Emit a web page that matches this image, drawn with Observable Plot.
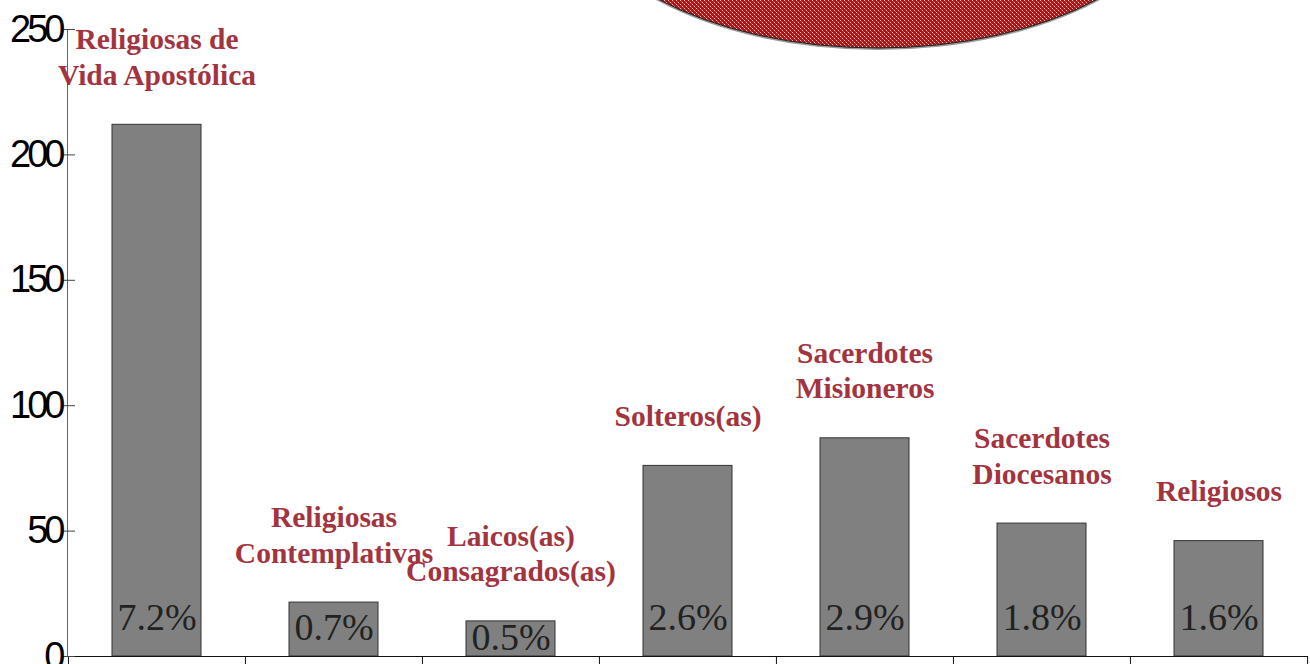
<!DOCTYPE html>
<html><head><meta charset="utf-8">
<script src="https://cdn.jsdelivr.net/npm/d3@7"></script>
<script src="https://cdn.jsdelivr.net/npm/@observablehq/plot@0.6"></script>
<style>
body{margin:0;background:#fff;overflow:hidden}
#chart svg g[aria-label="y-axis tick label"] text{letter-spacing:-4px}
</style>
</head><body><div id="chart"></div>
<script>
const categories = ["Religiosas de\nVida Apostólica", "Religiosas\nContemplativas", "Laicos(as)\nConsagrados(as)", "Solteros(as)", "Sacerdotes\nMisioneros", "Sacerdotes\nDiocesanos", "Religiosos"];
const values = [212, 21.5, 14, 76, 87, 53, 46];
const percents = ["7.2%", "0.7%", "0.5%", "2.6%", "2.9%", "1.8%", "1.6%"];
const yTicks = [0, 50, 100, 150, 200, 250];

const data = categories.map((c, i) => ({cat: c, value: values[i], pct: percents[i]}));

const W = 1310, H = 664, mL = 67, mR = 3, mT = 29, mB = 8;
const step = (W - mL - mR) / categories.length;

function pieFragment() {
  return () => {
    const ns = "http://www.w3.org/2000/svg";
    const g = document.createElementNS(ns, "g");
    g.innerHTML = `<defs><pattern id="piepat" width="4" height="4" patternUnits="userSpaceOnUse">
      <rect width="4" height="4" fill="#a51616"/>
      <rect x="0" y="0" width="1" height="1" fill="#ecb8b8"/>
      <rect x="2" y="2" width="1" height="1" fill="#ecb8b8"/>
      <rect x="1" y="1" width="1" height="1" fill="#c85050"/>
      <rect x="3" y="3" width="1" height="1" fill="#c85050"/>
      </pattern></defs>
      <ellipse cx="878" cy="-117" rx="311" ry="167" fill="#9a9a9a"/>
      <ellipse cx="878" cy="-119" rx="311" ry="167" fill="url(#piepat)" stroke="#222" stroke-width="1"/>`;
    return g;
  };
}

const serif = "Liberation Serif, Times New Roman, serif";

const chart = Plot.plot({
  width: W, height: H,
  marginLeft: mL, marginRight: mR, marginTop: mT, marginBottom: mB,
  style: {background: "#fff", overflow: "visible"},
  x: {domain: categories, paddingInner: 0.5, paddingOuter: 0.25, axis: null},
  y: {domain: [0, 250], axis: null},
  marks: [
    pieFragment(),
    Plot.barY(data, {x: "cat", y: "value", fill: "#808080", stroke: "#333", strokeWidth: 1}),
    Plot.frame({anchor: "left", stroke: "#666"}),
    Plot.ruleY([0], {stroke: "#111", strokeWidth: 1.2}),
    Plot.ruleX(categories, {x: d => d, dx: -step / 2, y1: 0, y2: -3.4, stroke: "#111"}),
    Plot.ruleX([categories[categories.length - 1]], {x: d => d, dx: step / 2, y1: 0, y2: -3.4, stroke: "#111"}),
    Plot.axisY({ticks: yTicks, label: null, tickSize: 5, tickPadding: 1, fontSize: 38, fontFamily: "Liberation Sans, Arial, sans-serif", fill: "#000", stroke: "#444"}),
    Plot.axisY({ticks: yTicks, label: null, tickSize: 8, dx: 8, tickFormat: () => "", stroke: "#444"}),
    Plot.text(data, {x: "cat", y: "value", text: "cat", dy: -40, lineAnchor: "bottom", lineHeight: 1.2,
      fontSize: 29.5, fontWeight: "bold", fontFamily: serif, fill: "#a3343f"}),
    Plot.text(data, {x: "cat", y: d => Math.min(d.value / 2 + 0.5, 15.5), text: "pct",
      fontSize: 38, fontFamily: serif, fill: "#222"})
  ]
});
document.getElementById("chart").appendChild(chart);
</script>
</body></html>
